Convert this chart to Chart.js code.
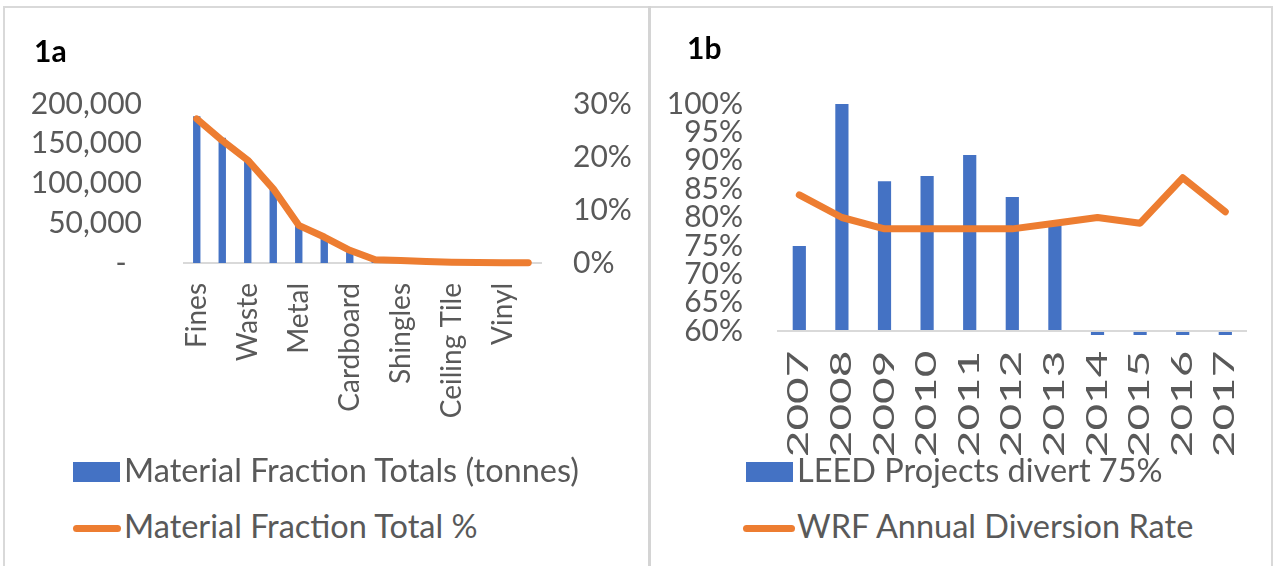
<!DOCTYPE html>
<html><head><meta charset="utf-8">
<script src="https://cdn.jsdelivr.net/npm/chart.js@4.4.0/dist/chart.umd.min.js"></script>
<style>
html,body{margin:0;padding:0;background:#fff;width:1277px;height:566px;overflow:hidden;font-family:Lato,sans-serif;}
#frame{position:absolute;left:3px;top:6px;width:1270px;height:620px;border:2px solid #d9d9d9;box-sizing:border-box;}
#divider{position:absolute;left:648px;top:6px;width:3px;height:570px;background:#d4d4d4;}
.panel{position:absolute;top:0;}
.title{position:absolute;font-family:Lato;font-weight:bold;font-size:30px;line-height:36px;color:#000;white-space:nowrap;}
.leg{position:absolute;font-family:Lato;font-size:32.5px;line-height:40px;color:#595959;white-space:nowrap;}
.box{position:absolute;background:#4472C4;}
.ln{position:absolute;background:#ED7D31;border-radius:4px;}
</style></head>
<body>
<div id="frame"></div>
<div id="divider"></div>
<div class="panel" style="left:0;width:648px;height:470px;"><canvas id="c1" width="648" height="470"></canvas></div>
<div class="panel" style="left:651px;width:621px;height:470px;"><canvas id="c2" width="621" height="470"></canvas></div>
<div class="title" style="left:34px;top:32px;">1a</div>
<div class="title" style="left:687px;top:29px;">1b</div>

<div class="box" style="left:73px;top:462px;width:47px;height:20px;"></div>
<div class="leg" style="left:124px;top:450px;">Material Fraction Totals (tonnes)</div>
<div class="ln" style="left:73px;top:525px;width:48px;height:7px;"></div>
<div class="leg" style="left:124px;top:506px;">Material Fraction Total %</div>

<div class="box" style="left:746px;top:462px;width:47px;height:20px;"></div>
<div class="leg" style="left:797px;top:450px;">LEED Projects divert 75%</div>
<div class="ln" style="left:743px;top:525px;width:52px;height:7px;"></div>
<div class="leg" style="left:797px;top:506px;">WRF Annual Diversion Rate</div>

<script>
// ---- Data: chart 1a ----
// Only every other category name is legible in the picture; the others are left blank.
const materialCategories = ["Fines","","Waste","","Metal","","Cardboard","","Shingles","","Ceiling Tile","","Vinyl",""];
const materialTonnes = [184600,157500,130500,93000,47100,30500,13750,3400,2500,1800,900,700,400,300];
const materialPercent = [27.2,23.1,19.4,14.0,7.1,4.9,2.4,0.6,0.45,0.3,0.15,0.1,0.06,0.05];
const tonnesTicks = {min:0,max:200000,step:50000};
const percentTicks = {min:0,max:30,step:10};

// ---- Data: chart 1b ----
const years = ["2007","2008","2009","2010","2011","2012","2013","2014","2015","2016","2017"];
const leedDivert = [75,100,86.4,87.3,91,83.6,78.6,0,0,0,0];
const wrfDiversion = [84,80,78,78,78,78,79,80,79,87,81];
const rateTicks = {min:60,max:100,step:5};

const BLUE = '#4472C4', ORANGE = '#ED7D31', TXT = '#595959', AXIS = '#d9d9d9';

// Category scale whose rotated labels can be stretched vertically (as in the reference)
class StretchCategory extends Chart.CategoryScale {
  drawLabels(chartArea) {
    const ctx = this.ctx, s = this.options.stretch || 1, y0 = this.top;
    ctx.save();
    ctx.translate(0, y0); ctx.scale(1, s); ctx.translate(0, -y0);
    super.drawLabels(chartArea);
    ctx.restore();
  }
}
StretchCategory.id = 'stretchCategory';
StretchCategory.defaults = Chart.CategoryScale.defaults;
Chart.register(StretchCategory);

const tickFont = {family:'Lato', size:30};
const xFont = {family:'Lato', size:28};

new Chart(document.getElementById('c1'), {
  data: {
    labels: materialCategories,
    datasets: [
      {type:'line', label:'Material Fraction Total %', data:materialPercent, yAxisID:'y2',
       borderColor:ORANGE, borderWidth:7, pointRadius:0, tension:0, borderJoinStyle:'round',
       borderCapStyle:'round', clip:false, order:0},
      {type:'bar', label:'Material Fraction Totals (tonnes)', data:materialTonnes, yAxisID:'y',
       backgroundColor:BLUE, categoryPercentage:1, barPercentage:0.29, order:1}
    ]
  },
  options: {
    responsive:false, animation:false, devicePixelRatio:1,
    layout:{padding:{top:104,left:0,right:0,bottom:0}},
    plugins:{legend:{display:false}, tooltip:{enabled:false}},
    scales:{
      x:{type:'stretchCategory', stretch:1.0, grid:{display:false, drawTicks:false},
         border:{display:true,color:AXIS,width:2},
         ticks:{autoSkip:false, minRotation:90, maxRotation:90, padding:20, color:TXT, font:xFont},
         afterFit:s=>{s.height=207;}},
      y:{position:'left', min:tonnesTicks.min, max:tonnesTicks.max,
         grid:{display:false, drawTicks:false}, border:{display:false},
         ticks:{autoSkip:false, stepSize:tonnesTicks.step, padding:42, color:TXT, font:tickFont,
                callback:v=> v===0 ? '-  ' : v.toLocaleString('en-US')},
         afterFit:s=>{s.width=184;}},
      y2:{position:'right', min:percentTicks.min, max:percentTicks.max,
         grid:{display:false, drawTicks:false}, border:{display:false},
         ticks:{autoSkip:false, stepSize:percentTicks.step, padding:32, color:TXT, font:tickFont, callback:v=>v+'%'},
         afterFit:s=>{s.width=107;}}
    }
  }
});

new Chart(document.getElementById('c2'), {
  data: {
    labels: years,
    datasets: [
      {type:'line', label:'WRF Annual Diversion Rate', data:wrfDiversion,
       borderColor:ORANGE, borderWidth:7, pointRadius:0, tension:0, borderJoinStyle:'round',
       borderCapStyle:'round', clip:false, order:0},
      {type:'bar', label:'LEED Projects divert 75%', data:leedDivert, base:rateTicks.min,
       backgroundColor:BLUE, categoryPercentage:1, barPercentage:0.31,
       clip:{left:10,top:10,right:10,bottom:4}, order:1}
    ]
  },
  options: {
    responsive:false, animation:false, devicePixelRatio:1,
    layout:{padding:{top:104,left:0,right:24,bottom:0}},
    plugins:{legend:{display:false}, tooltip:{enabled:false}},
    scales:{
      x:{type:'stretchCategory', stretch:1.64, grid:{display:false, drawTicks:false},
         border:{display:true,color:AXIS,width:2,z:1},
         ticks:{autoSkip:false, minRotation:90, maxRotation:90, padding:12, color:TXT, font:xFont},
         afterFit:s=>{s.height=139;}},
      y:{position:'left', min:rateTicks.min, max:rateTicks.max,
         grid:{display:false, drawTicks:false}, border:{display:false},
         ticks:{autoSkip:false, stepSize:rateTicks.step, padding:35, color:TXT, font:tickFont, callback:v=>v+'%'},
         afterFit:s=>{s.width=127;}}
    }
  }
});
</script>
</body></html>
